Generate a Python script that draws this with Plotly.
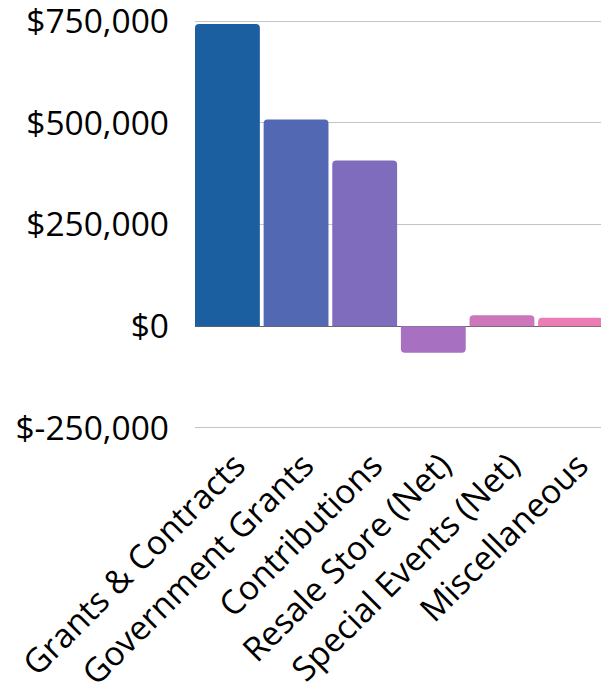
import plotly.graph_objects as go

categories = ["Grants & Contracts", "Government Grants", "Contributions",
              "Resale Store (Net)", "Special Events (Net)", "Miscellaneous"]
values = [743000, 508000, 407000, -65000, 27000, 21000]
colors = ["#1B5FA0", "#5368B2", "#806CBC", "#A870C0", "#CC76BB", "#EC7CB5"]
tick_vals = [-250000, 0, 250000, 500000, 750000]
tick_text = ["$-250,000", "$0", "$250,000", "$500,000", "$750,000"]

fig = go.Figure(go.Bar(x=categories, y=values, marker=dict(color=colors, line=dict(width=0))))

fig.update_layout(
    width=609, height=696,
    margin=dict(l=187, r=14, t=11, b=274, autoexpand=False),
    paper_bgcolor="white", plot_bgcolor="white",
    font=dict(family="Open Sans", size=34, color="black"),
    bargap=0.055,
    barcornerradius=4,
    showlegend=False,
    xaxis=dict(tickangle=-45, showgrid=False, showline=False, ticks="",
               range=[-0.4725, 5.4725],
               tickfont=dict(size=33.5), ticklabelstandoff=8, ticklabelshift=8),
    yaxis=dict(range=[-255000, 755000], tickvals=tick_vals, ticktext=tick_text,
               showgrid=True, gridcolor="#C4C4C4", gridwidth=1,
               zeroline=True, zerolinecolor="#666666", zerolinewidth=1,
               ticks="", ticklabelstandoff=25, tickfont=dict(size=33.5),
               ticklabeloverflow="allow"),
)

fig.write_html("out.html")
